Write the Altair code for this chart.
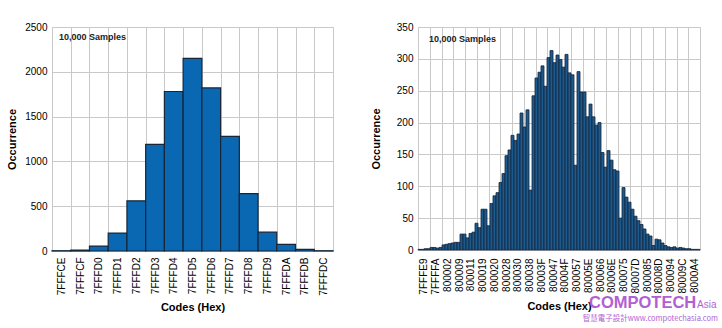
import altair as alt
import pandas as pd

# ---------------- data ----------------
left_codes = ["7FFFCE", "7FFFCF", "7FFFD0", "7FFFD1", "7FFFD2", "7FFFD3", "7FFFD4",
              "7FFFD5", "7FFFD6", "7FFFD7", "7FFFD8", "7FFFD9", "7FFFDA", "7FFFDB", "7FFFDC"]
left_counts = [3, 10, 55, 200, 560, 1190, 1780, 2150, 1820, 1280, 640, 210, 75, 18, 3]

right_labels = ["7FFFE9", "7FFFFA", "800002", "800009", "800011", "800019", "800020", "800028",
                "800030", "800038", "80003F", "800047", "80004F", "800057", "80005E", "800066",
                "80006E", "800075", "80007D", "800085", "80008D", "800094", "80009C", "8000A4"]
right_counts = [1, 1, 2, 2, 4, 4, 3, 4, 8, 9, 10, 11, 12, 12,
                25, 25, 19, 26, 28, 42, 35, 64, 64, 38, 73, 85, 90, 106, 120, 148, 157, 180,
                172, 182, 215, 193, 220, 94,
                242, 270, 279, 289, 257, 302, 313, 294, 306, 299, 287, 307, 278, 275, 133, 280,
                248, 248, 209, 229, 209, 196, 200,
                153, 130, 156, 141, 126, 124, 50, 98, 83, 75, 64, 53, 46, 40, 33, 25, 22, 7, 17,
                16, 11, 7, 5, 4, 5, 3, 4, 3, 2, 2, 1, 1, 1]
right_bins = list(range(len(right_counts)))

samples_text = ["10,000 Samples"]
x_title = "Codes (Hex)"
y_title = "Occurrence"
left_yticks = [0, 500, 1000, 1500, 2000, 2500]
right_yticks = [0, 50, 100, 150, 200, 250, 300, 350]
wm_main = ["COMPOTECH"]
wm_small = ["Asia"]
wm_sub = ["智慧電子設計www.compotechasia.com"]

FONT = "Liberation Sans"
LABEL_COLOR = "#333333"
GRID = "#c9c9c9"
WM_COLOR = "#b25fd3"

W_L, H_L = 281, 224
W_R, H_R = 282, 223


def y_axis(values, tpad):
    return alt.Axis(title=y_title, values=values, format="d", grid=True, ticks=False, domain=False,
                    labelPadding=5, titlePadding=tpad, gridColor=GRID, gridWidth=1)


def x_axis(pad):
    return alt.Axis(title=x_title, labelAngle=-90, grid=True, tickBand="extent",
                    ticks=False, domain=False, labelPadding=pad, titlePadding=6, gridColor=GRID)


# ---------------- left chart ----------------
left_df = pd.DataFrame({"code": left_codes, "count": left_counts})
left_bars = alt.Chart(left_df).mark_bar(color="#0a67b2", stroke="#172638", strokeWidth=1.2).encode(
    x=alt.X("code:N", sort=left_codes,
            scale=alt.Scale(paddingInner=0, paddingOuter=0), axis=x_axis(6)),
    y=alt.Y("count:Q", scale=alt.Scale(domain=[0, 2500], nice=False),
            axis=y_axis(left_yticks, 7)),
)
left_text = alt.Chart(pd.DataFrame({"t": samples_text})).mark_text(
    align="left", baseline="middle", font=FONT, fontSize=9, fontWeight="bold", color="#222222"
).encode(x=alt.value(7), y=alt.value(10), text="t:N")
left = alt.layer(left_bars, left_text).properties(width=W_L, height=H_L)

# ---------------- right chart ----------------
right_df = pd.DataFrame({"bin": right_bins, "count": right_counts})
right_bars = alt.Chart(right_df).mark_bar(color="#1d5a8e", stroke="#14253a", strokeWidth=0.8).encode(
    x=alt.X("bin:O", scale=alt.Scale(paddingInner=0, paddingOuter=0), axis=None),
    y=alt.Y("count:Q", scale=alt.Scale(domain=[0, 350], nice=False),
            axis=y_axis(right_yticks, 15)),
)
lab_df = pd.DataFrame({"label": right_labels})
right_grid = alt.Chart(lab_df).mark_tick(opacity=0).encode(
    x=alt.X("label:N", sort=right_labels, scale=alt.Scale(paddingInner=0, paddingOuter=0),
            axis=x_axis(8)),
)
right_text = alt.Chart(pd.DataFrame({"t": samples_text})).mark_text(
    align="left", baseline="middle", font=FONT, fontSize=9, fontWeight="bold", color="#222222"
).encode(x=alt.value(11), y=alt.value(12), text="t:N")

wm1 = alt.Chart(pd.DataFrame({"t": wm_main})).mark_text(
    align="left", baseline="alphabetic", font="Liberation Sans", fontSize=16.5,
    fontWeight="bold", color=WM_COLOR
).encode(x=alt.value(171), y=alt.value(281), text="t:N")
wm2 = alt.Chart(pd.DataFrame({"t": wm_small})).mark_text(
    align="left", baseline="alphabetic", font="Liberation Sans", fontSize=10,
    color=WM_COLOR
).encode(x=alt.value(279), y=alt.value(281), text="t:N")
wm3 = alt.Chart(pd.DataFrame({"t": wm_sub})).mark_text(
    align="right", baseline="alphabetic", font="Noto Sans CJK TC", fontSize=7.5,
    color=WM_COLOR
).encode(x=alt.value(300), y=alt.value(294), text="t:N")

right = alt.layer(right_bars, right_grid, right_text, wm1, wm2, wm3).resolve_scale(
    x="independent").properties(width=W_R, height=H_R)

chart = alt.hconcat(left, right, spacing=34).properties(
    padding={"left": 6, "top": 21, "right": 0, "bottom": 0}
).configure_view(
    stroke="#4a4a4a", strokeWidth=1.5
).configure_axis(
    labelFont=FONT, labelFontSize=8.5, labelFontWeight="bold", labelColor=LABEL_COLOR,
    titleFont=FONT, titleFontSize=9, titleFontWeight="bold", titleColor="#222222",
).configure(background="white")

chart.save("out.html", embed_options={"renderer": "svg", "actions": False})
